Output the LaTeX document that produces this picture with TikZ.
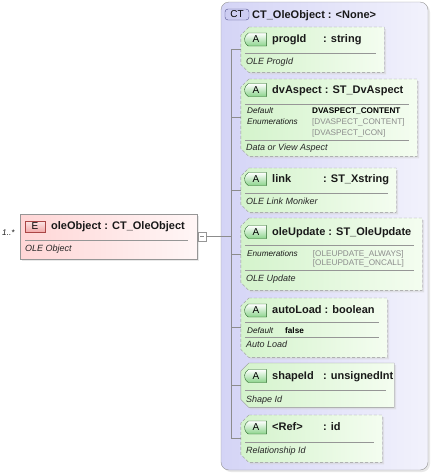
\documentclass[tikz,border=0pt]{standalone}
\usepackage{fontspec}
\setmainfont{Liberation Sans}
\usepackage{tikz}
\usetikzlibrary{shapes.misc}
\usetikzlibrary{shadows}
\definecolor{boxline}{RGB}{150,150,150}
\definecolor{ctfill}{RGB}{212,212,246}
\definecolor{ctfillr}{RGB}{242,242,252}
\definecolor{ctbadgefill}{RGB}{205,205,242}
\definecolor{ctbadgeline}{RGB}{80,80,140}
\definecolor{attrfill}{RGB}{212,243,204}
\definecolor{attrfillr}{RGB}{244,253,240}
\definecolor{abadgefill}{RGB}{140,212,140}
\definecolor{abadgeline}{RGB}{40,100,40}
\definecolor{elemfill}{RGB}{255,214,214}
\definecolor{elemfillr}{RGB}{255,246,246}
\definecolor{ebadgefill}{RGB}{242,170,170}
\definecolor{ebadgeline}{RGB}{170,70,70}
\definecolor{enumgray}{RGB}{140,140,140}
\newcommand{\attroutline}[1]{([xshift=8pt]#1.north west) -- (#1.north east) -- (#1.south east) -- ([xshift=8pt]#1.south west) -- ([yshift=8pt]#1.south west) -- ([yshift=-8pt]#1.north west) -- cycle}
\tikzset{boxshadow/.style={drop shadow={shadow xshift=2pt,shadow yshift=-2pt,fill=black!18}}}
\tikzset{ctbox/.style={rectangle, rounded corners=8pt, draw=boxline, left color=ctfill, right color=ctfillr, boxshadow, inner sep=0}}
\tikzset{attr/.style={rectangle, inner sep=0, anchor=north}}
\tikzset{attrline/.style={draw=boxline, dash pattern=on 3pt off 2pt, left color=attrfill, right color=attrfillr, boxshadow}}
\tikzset{reqattrline/.style={attrline, solid}}
\tikzset{elembox/.style={rectangle, draw=boxline, line width=0.8pt, left color=elemfill, right color=elemfillr, boxshadow, inner sep=0}}
\tikzset{abadge/.style={rounded rectangle, rounded rectangle right arc=none, rounded rectangle arc length=120, draw=abadgeline, top color=white, bottom color=abadgefill, minimum width=22pt, minimum height=13pt, inner sep=0, font=\fontsize{10}{10}\selectfont}}
\tikzset{ebadge/.style={rectangle, draw=ebadgeline, top color=white!70!ebadgefill, bottom color=ebadgefill, minimum width=20pt, minimum height=11pt, inner sep=0, font=\fontsize{10}{10}\selectfont}}
\tikzset{ctbadge/.style={rectangle, rounded corners=3pt, draw=ctbadgeline, fill=ctbadgefill, minimum width=24pt, minimum height=11pt, inner sep=0, font=\fontsize{10}{10}\selectfont}}
\tikzset{minusbox/.style={rectangle, draw=boxline, fill=white, minimum width=8pt, minimum height=9pt, inner sep=0}}
\tikzset{title/.style={anchor=base west, inner sep=0, text=black!90, font=\fontsize{11}{13}\selectfont\bfseries}}
\tikzset{desc/.style={anchor=base west, inner sep=0, text=black!85, font=\fontsize{9}{11}\selectfont\itshape}}
\tikzset{facetlabel/.style={anchor=base west, inner sep=0, text=black!90, font=\fontsize{8.2}{10}\selectfont\itshape}}
\tikzset{facetvalue/.style={anchor=base west, inner sep=0, text=black, font=\fontsize{8.2}{10}\selectfont\bfseries}}
\tikzset{enumvalue/.style={anchor=base west, inner sep=0, text=enumgray, font=\fontsize{8.2}{10}\selectfont}}
\tikzset{sepline/.style={draw=boxline, line width=0.6pt}}
\tikzset{treeline/.style={draw=black!45, line width=0.6pt}}
\begin{document}
\begin{tikzpicture}[x=1pt,y=-1pt]
    \useasboundingbox (0,0) rectangle (435,475);

    \node[ctbox, minimum width=207pt, minimum height=468pt] (ct) at (324.5,236) {};
    \node[ctbadge] (ctBadge) at (237,14.5) {CT};
    \node[title] (ctName) at (252,18) {CT\_OleObject : <None>};

    \node[elembox, minimum width=177pt, minimum height=45pt] (oleObject) at (108.5,236.5) {};
    \node[ebadge] (oleObjectBadge) at (35,226.5) {E};
    \node[title] (oleObjectName) at (51,229) {oleObject : CT\_OleObject};
    \draw[sepline] (25,240.7) -- (188,240.7);
    \node[desc] (oleObjectDesc) at (25,251) {OLE Object};
    \node[facetlabel] (occurs) at (2,235) {1..*};
    \node[minusbox] (minus) at (202,236.5) {};
    \draw[treeline] ([xshift=2pt]minus.west) -- ([xshift=-2pt]minus.east);

    \node[attr, minimum width=143pt, minimum height=45pt] (progId) at (312.5,27) {};
    \draw[attrline] \attroutline{progId};
    \node[abadge] (progIdBadge) at (256,39.5) {A};
    \node[title] (progIdName) at (272,42.5) {progId};
    \node[title] (progIdType) at (323,42.5) {: string};
    \draw[sepline] (245,53) -- (376,53);
    \node[desc] (progIdDesc) at (246,64.5) {OLE ProgId};

    \node[attr, minimum width=176pt, minimum height=77pt] (dvAspect) at (329,79) {};
    \draw[attrline] \attroutline{dvAspect};
    \node[abadge] (dvAspectBadge) at (256,90) {A};
    \node[title] (dvAspectName) at (272,93) {dvAspect : ST\_DvAspect};
    \draw[sepline] (245,104.3) -- (409,104.3);
    \node[facetlabel] (dvAspectDefault) at (247,113) {Default};
    \node[facetvalue] (dvAspectDefaultVal) at (312,113) {DVASPECT\_CONTENT};
    \node[facetlabel] (dvAspectEnum) at (247,124.5) {Enumerations};
    \node[enumvalue] (dvAspectEnum1) at (312,124.5) {[DVASPECT\_CONTENT]};
    \node[enumvalue] (dvAspectEnum2) at (312,135.5) {[DVASPECT\_ICON]};
    \draw[sepline] (245,140) -- (409,140);
    \node[desc] (dvAspectDesc) at (246,150.5) {Data or View Aspect};

    \node[attr, minimum width=155pt, minimum height=44pt] (link) at (318.5,168) {};
    \draw[attrline] \attroutline{link};
    \node[abadge] (linkBadge) at (256,179) {A};
    \node[title] (linkName) at (272,182) {link};
    \node[title] (linkType) at (323,182) {: ST\_Xstring};
    \draw[sepline] (245,193.3) -- (388,193.3);
    \node[desc] (linkDesc) at (246,204) {OLE Link Moniker};

    \node[attr, minimum width=181pt, minimum height=72pt] (oleUpdate) at (331.5,218) {};
    \draw[attrline] \attroutline{oleUpdate};
    \node[abadge] (oleUpdateBadge) at (256,232) {A};
    \node[title] (oleUpdateName) at (272,235) {oleUpdate : ST\_OleUpdate};
    \draw[sepline] (245,245) -- (414,245);
    \node[facetlabel] (oleUpdateEnum) at (247,256.5) {Enumerations};
    \node[enumvalue] (oleUpdateEnum1) at (312.7,256.5) {[OLEUPDATE\_ALWAYS]};
    \node[enumvalue] (oleUpdateEnum2) at (312.7,265.5) {[OLEUPDATE\_ONCALL]};
    \draw[sepline] (245,270) -- (414,270);
    \node[desc] (oleUpdateDesc) at (246,281) {OLE Update};

    \node[attr, minimum width=146pt, minimum height=59pt] (autoLoad) at (314,298) {};
    \draw[attrline] \attroutline{autoLoad};
    \node[abadge] (autoLoadBadge) at (256,310.5) {A};
    \node[title] (autoLoadName) at (272,313.5) {autoLoad : boolean};
    \draw[sepline] (245,322.7) -- (379,322.7);
    \node[facetlabel] (autoLoadDefault) at (247,333) {Default};
    \node[facetvalue] (autoLoadDefaultVal) at (285,333) {false};
    \draw[sepline] (245,337.3) -- (379,337.3);
    \node[desc] (autoLoadDesc) at (246,347.5) {Auto Load};

    \node[attr, minimum width=153pt, minimum height=44pt] (shapeId) at (317.5,363) {};
    \draw[reqattrline] \attroutline{shapeId};
    \node[abadge] (shapeIdBadge) at (256,376) {A};
    \node[title] (shapeIdName) at (272,379) {shapeId};
    \node[title] (shapeIdType) at (323,379) {: unsignedInt};
    \draw[sepline] (245,390) -- (386,390);
    \node[desc] (shapeIdDesc) at (246,402) {Shape Id};

    \node[attr, minimum width=141pt, minimum height=47pt] (ref) at (311.5,415) {};
    \draw[attrline] \attroutline{ref};
    \node[abadge] (refBadge) at (256,427.5) {A};
    \node[title] (refName) at (272,430.5) {<Ref>};
    \node[title] (refType) at (323,430.5) {: id};
    \draw[sepline] (245,442.7) -- (374,442.7);
    \node[desc] (refDesc) at (246,453.5) {Relationship Id};

    \coordinate (trunk) at (231,236.5);
    \draw[treeline] (minus.east) -- (trunk);
    \draw[treeline] (trunk |- progId.west) -- (trunk |- ref.west);
    \draw[treeline] (trunk |- progId.west) -- (progId.west);
    \draw[treeline] (trunk |- dvAspect.west) -- (dvAspect.west);
    \draw[treeline] (trunk |- link.west) -- (link.west);
    \draw[treeline] (trunk |- oleUpdate.west) -- (oleUpdate.west);
    \draw[treeline] (trunk |- autoLoad.west) -- (autoLoad.west);
    \draw[treeline] (trunk |- shapeId.west) -- (shapeId.west);
    \draw[treeline] (trunk |- ref.west) -- (ref.west);
\end{tikzpicture}
\end{document}
